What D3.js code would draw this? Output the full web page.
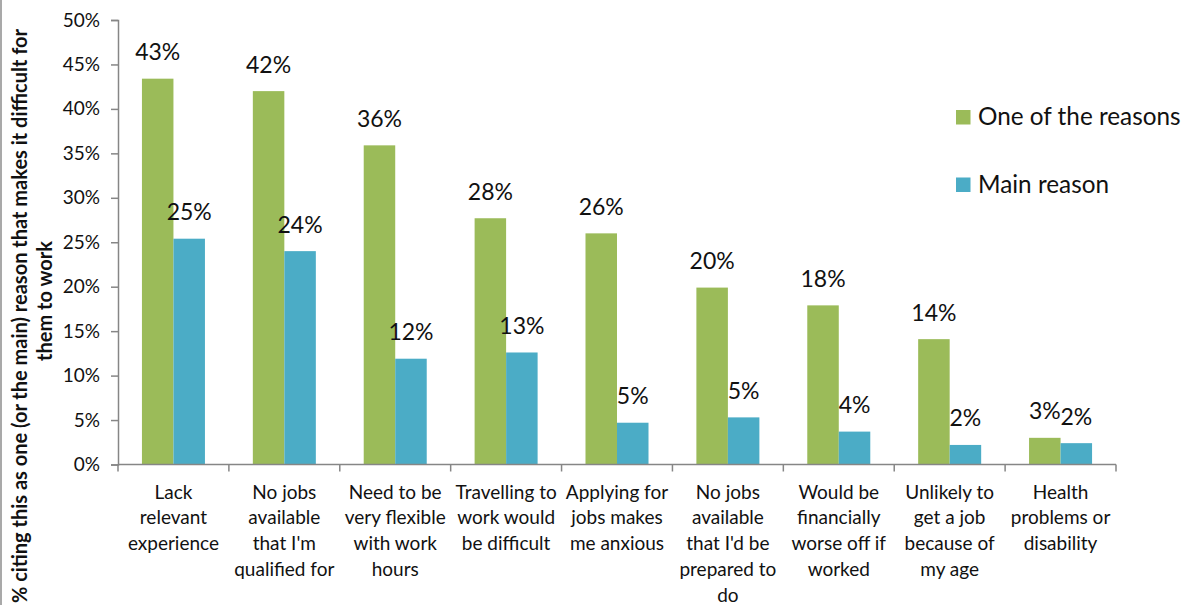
<!DOCTYPE html>
<html>
<head>
<meta charset="utf-8">
<script src="https://cdn.jsdelivr.net/npm/d3@7"></script>
<style>
  html, body { margin: 0; padding: 0; background: #fff; }
  svg { display: block; font-family: Lato, "Open Sans", sans-serif; }
</style>
</head>
<body>
<svg id="chart" width="1185" height="605"></svg>
<script>
// Reasons people give for finding it difficult to work
const categories = [
  ["Lack", "relevant", "experience"],
  ["No jobs", "available", "that I'm", "qualified for"],
  ["Need to be", "very flexible", "with work", "hours"],
  ["Travelling to", "work would", "be difficult"],
  ["Applying for", "jobs makes", "me anxious"],
  ["No jobs", "available", "that I'd be", "prepared to", "do"],
  ["Would be", "financially", "worse off if", "worked"],
  ["Unlikely to", "get a job", "because of", "my age"],
  ["Health", "problems or", "disability"]
];
const seriesNames = ["One of the reasons", "Main reason"];
const oneOfTheReasons = [0.434, 0.420, 0.359, 0.277, 0.260, 0.199, 0.179, 0.141, 0.030];
const mainReason      = [0.254, 0.240, 0.119, 0.126, 0.047, 0.053, 0.037, 0.022, 0.024];
const yTicks = [0, 0.05, 0.10, 0.15, 0.20, 0.25, 0.30, 0.35, 0.40, 0.45, 0.50];
const yTitle = ["% citing this as one (or the main) reason that makes it difficult for", "them to work"];
const colors = ["#9BBB59", "#4BACC6"];

const svg = d3.select("#chart");
const plot = { left: 118, right: 1116, top: 20, bottom: 464.5 };
const axisColor = "#868686";

// Chart frame edge on the left
svg.append("line")
  .attr("x1", 1).attr("x2", 1).attr("y1", 0).attr("y2", 605)
  .attr("stroke", "#8c8c8c").attr("stroke-width", 1.5);

const x = d3.scaleBand()
  .domain(d3.range(categories.length))
  .range([plot.left, plot.right])
  .padding(0);

const xInner = d3.scaleBand()
  .domain(d3.range(seriesNames.length))
  .range([0, x.bandwidth()])
  .paddingInner(0)
  .paddingOuter(0.76);

const y = d3.scaleLinear()
  .domain([0, 0.5])
  .range([plot.bottom, plot.top]);

const pct = d3.format(".0%");

// Bars
const seriesData = [oneOfTheReasons, mainReason];
seriesData.forEach((values, s) => {
  svg.append("g")
    .selectAll("rect")
    .data(values)
    .join("rect")
      .attr("x", (d, i) => x(i) + xInner(s))
      .attr("y", d => y(d))
      .attr("width", xInner.bandwidth())
      .attr("height", d => y(0) - y(d))
      .attr("fill", colors[s]);
});

// Value labels
seriesData.forEach((values, s) => {
  svg.append("g")
    .selectAll("text")
    .data(values)
    .join("text")
      .attr("x", (d, i) => x(i) + xInner(s) + xInner.bandwidth() / 2)
      .attr("y", d => y(d) - 18.5)
      .attr("text-anchor", "middle")
      .attr("font-size", 23)
      .attr("fill", "#111")
      .text(d => pct(d));
});

// Y axis
const yAxis = svg.append("g")
  .attr("transform", `translate(${plot.left},0)`)
  .call(d3.axisLeft(y).tickValues(yTicks).tickFormat(pct).tickSize(7).tickPadding(11));
yAxis.selectAll("text").attr("font-size", 19).attr("fill", "#111").attr("font-family", "Lato, sans-serif");
yAxis.select(".domain").attr("stroke", axisColor).attr("stroke-width", 1.5);
yAxis.selectAll(".tick line").attr("stroke", axisColor).attr("stroke-width", 1.5);

// X axis with ticks at category boundaries
const xAxisG = svg.append("g").attr("transform", `translate(0,${plot.bottom})`);
xAxisG.append("line")
  .attr("x1", plot.left).attr("x2", plot.right)
  .attr("stroke", axisColor).attr("stroke-width", 1.5);
xAxisG.selectAll("line.tick")
  .data(d3.range(categories.length + 1))
  .join("line")
    .attr("class", "tick")
    .attr("x1", i => i < categories.length ? x(i) : plot.right)
    .attr("x2", i => i < categories.length ? x(i) : plot.right)
    .attr("y1", 0).attr("y2", 7)
    .attr("stroke", axisColor).attr("stroke-width", 1.5);

xAxisG.selectAll("text.cat")
  .data(categories)
  .join("text")
    .attr("class", "cat")
    .attr("text-anchor", "middle")
    .attr("font-size", 19)
    .attr("fill", "#111")
    .each(function(lines, i) {
      d3.select(this).selectAll("tspan")
        .data(lines)
        .join("tspan")
          .attr("x", x(i) + x.bandwidth() / 2)
          .attr("y", (l, k) => 34 + k * 25.8)
          .text(l => l);
    });

// Y axis title (two wrapped lines, rotated)
const titleCenters = [316, 301];
const titleBaselines = [27, 52];
svg.append("g")
  .attr("transform", "rotate(-90)")
  .selectAll("text")
  .data(yTitle)
  .join("text")
    .attr("x", (d, k) => -titleCenters[k])
    .attr("y", (d, k) => titleBaselines[k])
    .attr("text-anchor", "middle")
    .attr("font-size", 20)
    .attr("font-weight", "bold")
    .attr("fill", "#111")
    .text(d => d);

// Legend
const legend = svg.append("g").attr("transform", "translate(956,110)");
seriesNames.forEach((name, s) => {
  const g = legend.append("g").attr("transform", `translate(0,${s * 67.5})`);
  g.append("rect").attr("width", 14.5).attr("height", 14.5).attr("fill", colors[s]);
  g.append("text")
    .attr("x", 22).attr("y", 15)
    .attr("font-size", 24.3)
    .attr("fill", "#111")
    .text(name);
});
</script>
</body>
</html>
